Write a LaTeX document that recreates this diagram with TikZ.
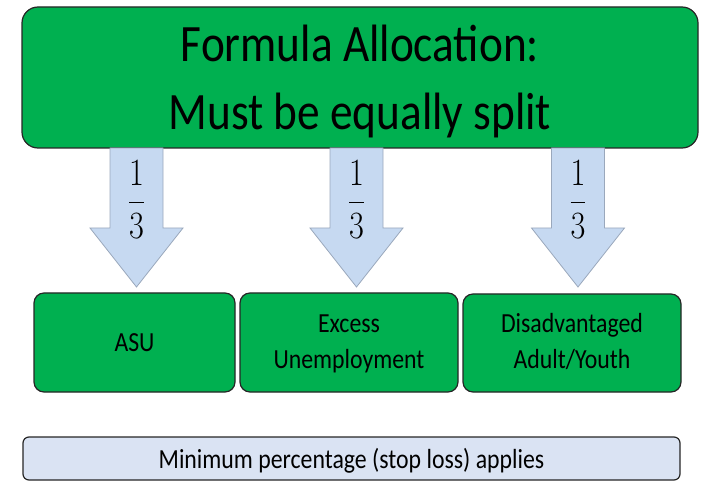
\documentclass[tikz,border=0pt]{standalone}
\usepackage{fontspec}
\setmainfont{Carlito}
\usepackage{graphicx}
\definecolor{boxgreen}{HTML}{00B050}
\definecolor{arrowblue}{HTML}{C6D9F1}
\definecolor{arrowedge}{HTML}{9AA8BC}
\definecolor{stopfill}{HTML}{DAE3F3}
\newcommand\vtext[1]{\scalebox{1}[1.16]{\begin{tabular}[t]{@{}c@{}}#1\end{tabular}}}
\newcommand\vfrac{\scalebox{1.3}[1.55]{$\displaystyle\frac{1}{3}$}}
\begin{document}
\begin{tikzpicture}[x=1pt,y=-1pt,
  gbox/.style={draw=black!85, line width=1.2pt, fill=boxgreen, inner sep=0pt, outer sep=0pt},
  stopbox/.style={draw=black!85, line width=1.2pt, fill=stopfill, inner sep=0pt, outer sep=0pt, rounded corners=6pt},
  bigarrow/.style={draw=arrowedge, line width=0.8pt, fill=arrowblue},
  txt/.style={inner sep=0pt, anchor=base},
  bigfont/.style={font=\fontsize{45.3}{58.6}\selectfont},
  smallfont/.style={font=\fontsize{23.8}{30.2}\selectfont},
  fracfont/.style={font=\fontsize{24.88}{30}\selectfont}
]
\useasboundingbox (0,0) rectangle (702,481);
% top box
\node[gbox, rounded corners=16pt, minimum width=676pt, minimum height=141pt] (top) at (360,77.5) {};
\node[txt, bigfont] (toptext) at (360,62) {\vtext{Formula Allocation:\\Must be equally split}};
% bottom boxes
\node[gbox, rounded corners=10pt, minimum width=201pt, minimum height=99pt] (asu) at (134.5,342.5) {};
\node[gbox, rounded corners=10pt, minimum width=218pt, minimum height=99pt] (excess) at (349,342.5) {};
\node[gbox, rounded corners=10pt, minimum width=218pt, minimum height=98pt] (dis) at (572,343) {};
\node[txt, smallfont] (asutext) at (asu |- 0,352) {\vtext{ASU}};
\node[txt, smallfont] (excesstext) at (excess |- 0,333) {\vtext{Excess\\Unemployment}};
\node[txt, smallfont] (distext) at (dis |- 0,333) {\vtext{Disadvantaged\\Adult/Youth}};
% stop loss box
\node[stopbox, minimum width=657pt, minimum height=43pt] (stop) at (351.5,458.5) {};
\node[txt, smallfont] (stoptext) at (stop |- 0,468) {\vtext{Minimum percentage (stop loss) applies}};
% block arrows
\foreach \c/\n in {136.5/a, 356.5/b, 578/c}{
  \coordinate (\n top) at (\c,148);
  \coordinate (\n tip) at (\c,287);
  \draw[bigarrow] ([xshift=-26.5pt]\n top) -- ([xshift=-26.5pt]\n top |- 0,228) -- ([xshift=-46.5pt]\n top |- 0,228)
     -- (\n tip) -- ([xshift=46.5pt]\n top |- 0,228) -- ([xshift=26.5pt]\n top |- 0,228) -- ([xshift=26.5pt]\n top) -- cycle;
  \node[txt, fracfont] (\n frac) at (\c,211.6) {\vfrac};
}
\end{tikzpicture}
\end{document}
